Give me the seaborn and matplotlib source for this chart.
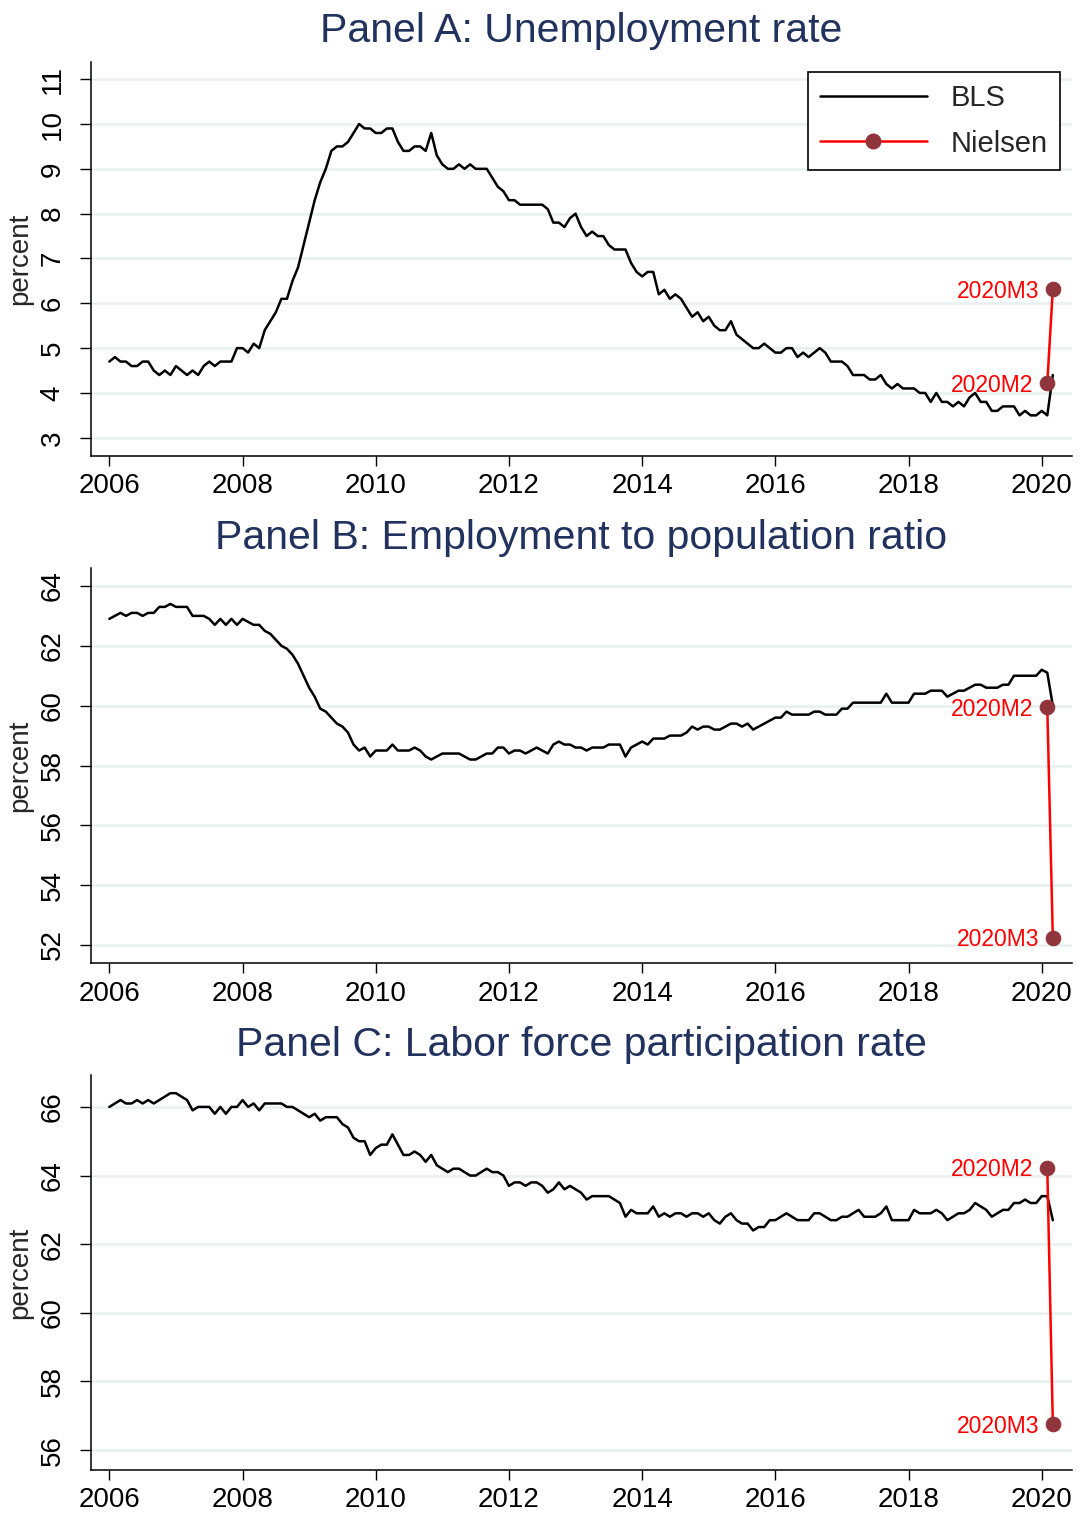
import numpy as np
import pandas as pd
import matplotlib
matplotlib.use("Agg")
import matplotlib.pyplot as plt
from matplotlib.lines import Line2D
import seaborn as sns

# ---------------- data ----------------
start_year = 2006

bls_unemp = [
    4.7, 4.8, 4.7, 4.7, 4.6, 4.6, 4.7, 4.7, 4.5, 4.4, 4.5, 4.4,
    4.6, 4.5, 4.4, 4.5, 4.4, 4.6, 4.7, 4.6, 4.7, 4.7, 4.7, 5.0,
    5.0, 4.9, 5.1, 5.0, 5.4, 5.6, 5.8, 6.1, 6.1, 6.5, 6.8, 7.3,
    7.8, 8.3, 8.7, 9.0, 9.4, 9.5, 9.5, 9.6, 9.8, 10.0, 9.9, 9.9,
    9.8, 9.8, 9.9, 9.9, 9.6, 9.4, 9.4, 9.5, 9.5, 9.4, 9.8, 9.3,
    9.1, 9.0, 9.0, 9.1, 9.0, 9.1, 9.0, 9.0, 9.0, 8.8, 8.6, 8.5,
    8.3, 8.3, 8.2, 8.2, 8.2, 8.2, 8.2, 8.1, 7.8, 7.8, 7.7, 7.9,
    8.0, 7.7, 7.5, 7.6, 7.5, 7.5, 7.3, 7.2, 7.2, 7.2, 6.9, 6.7,
    6.6, 6.7, 6.7, 6.2, 6.3, 6.1, 6.2, 6.1, 5.9, 5.7, 5.8, 5.6,
    5.7, 5.5, 5.4, 5.4, 5.6, 5.3, 5.2, 5.1, 5.0, 5.0, 5.1, 5.0,
    4.9, 4.9, 5.0, 5.0, 4.8, 4.9, 4.8, 4.9, 5.0, 4.9, 4.7, 4.7,
    4.7, 4.6, 4.4, 4.4, 4.4, 4.3, 4.3, 4.4, 4.2, 4.1, 4.2, 4.1,
    4.1, 4.1, 4.0, 4.0, 3.8, 4.0, 3.8, 3.8, 3.7, 3.8, 3.7, 3.9,
    4.0, 3.8, 3.8, 3.6, 3.6, 3.7, 3.7, 3.7, 3.5, 3.6, 3.5, 3.5,
    3.6, 3.5, 4.4,
]

bls_epop = [
    62.9, 63.0, 63.1, 63.0, 63.1, 63.1, 63.0, 63.1, 63.1, 63.3, 63.3, 63.4,
    63.3, 63.3, 63.3, 63.0, 63.0, 63.0, 62.9, 62.7, 62.9, 62.7, 62.9, 62.7,
    62.9, 62.8, 62.7, 62.7, 62.5, 62.4, 62.2, 62.0, 61.9, 61.7, 61.4, 61.0,
    60.6, 60.3, 59.9, 59.8, 59.6, 59.4, 59.3, 59.1, 58.7, 58.5, 58.6, 58.3,
    58.5, 58.5, 58.5, 58.7, 58.5, 58.5, 58.5, 58.6, 58.5, 58.3, 58.2, 58.3,
    58.4, 58.4, 58.4, 58.4, 58.3, 58.2, 58.2, 58.3, 58.4, 58.4, 58.6, 58.6,
    58.4, 58.5, 58.5, 58.4, 58.5, 58.6, 58.5, 58.4, 58.7, 58.8, 58.7, 58.7,
    58.6, 58.6, 58.5, 58.6, 58.6, 58.6, 58.7, 58.7, 58.7, 58.3, 58.6, 58.7,
    58.8, 58.7, 58.9, 58.9, 58.9, 59.0, 59.0, 59.0, 59.1, 59.3, 59.2, 59.3,
    59.3, 59.2, 59.2, 59.3, 59.4, 59.4, 59.3, 59.4, 59.2, 59.3, 59.4, 59.5,
    59.6, 59.6, 59.8, 59.7, 59.7, 59.7, 59.7, 59.8, 59.8, 59.7, 59.7, 59.7,
    59.9, 59.9, 60.1, 60.1, 60.1, 60.1, 60.1, 60.1, 60.4, 60.1, 60.1, 60.1,
    60.1, 60.4, 60.4, 60.4, 60.5, 60.5, 60.5, 60.3, 60.4, 60.5, 60.5, 60.6,
    60.7, 60.7, 60.6, 60.6, 60.6, 60.7, 60.7, 61.0, 61.0, 61.0, 61.0, 61.0,
    61.2, 61.1, 60.0,
]

bls_lfpr = [
    66.0, 66.1, 66.2, 66.1, 66.1, 66.2, 66.1, 66.2, 66.1, 66.2, 66.3, 66.4,
    66.4, 66.3, 66.2, 65.9, 66.0, 66.0, 66.0, 65.8, 66.0, 65.8, 66.0, 66.0,
    66.2, 66.0, 66.1, 65.9, 66.1, 66.1, 66.1, 66.1, 66.0, 66.0, 65.9, 65.8,
    65.7, 65.8, 65.6, 65.7, 65.7, 65.7, 65.5, 65.4, 65.1, 65.0, 65.0, 64.6,
    64.8, 64.9, 64.9, 65.2, 64.9, 64.6, 64.6, 64.7, 64.6, 64.4, 64.6, 64.3,
    64.2, 64.1, 64.2, 64.2, 64.1, 64.0, 64.0, 64.1, 64.2, 64.1, 64.1, 64.0,
    63.7, 63.8, 63.8, 63.7, 63.8, 63.8, 63.7, 63.5, 63.6, 63.8, 63.6, 63.7,
    63.6, 63.5, 63.3, 63.4, 63.4, 63.4, 63.4, 63.3, 63.2, 62.8, 63.0, 62.9,
    62.9, 62.9, 63.1, 62.8, 62.9, 62.8, 62.9, 62.9, 62.8, 62.9, 62.9, 62.8,
    62.9, 62.7, 62.6, 62.8, 62.9, 62.7, 62.6, 62.6, 62.4, 62.5, 62.5, 62.7,
    62.7, 62.8, 62.9, 62.8, 62.7, 62.7, 62.7, 62.9, 62.9, 62.8, 62.7, 62.7,
    62.8, 62.8, 62.9, 63.0, 62.8, 62.8, 62.8, 62.9, 63.1, 62.7, 62.7, 62.7,
    62.7, 63.0, 62.9, 62.9, 62.9, 63.0, 62.9, 62.7, 62.8, 62.9, 62.9, 63.0,
    63.2, 63.1, 63.0, 62.8, 62.9, 63.0, 63.0, 63.2, 63.2, 63.3, 63.2, 63.2,
    63.4, 63.4, 62.7,
]

nielsen_months = [(2020, 2), (2020, 3)]
nielsen_labels = ["2020M2", "2020M3"]
nielsen_unemp = [4.22, 6.32]
nielsen_epop = [59.95, 52.25]
nielsen_lfpr = [64.23, 56.76]

panel_titles = [
    "Panel A: Unemployment rate",
    "Panel B: Employment to population ratio",
    "Panel C: Labor force participation rate",
]
y_ticks = [list(range(3, 12)), list(range(52, 65, 2)), list(range(56, 67, 2))]
y_limits = [(2.6, 11.39), (51.39, 64.59), (55.42, 66.93)]
x_ticks = list(range(2006, 2021, 2))
x_limits = (2005.72, 2020.45)
legend_labels = ["BLS", "Nielsen"]

# ---------------- build tables ----------------
n = len(bls_unemp)
bls_time = [start_year + i / 12 for i in range(n)]
nielsen_time = [y + (m - 1) / 12 for (y, m) in nielsen_months]

bls_series = [bls_unemp, bls_epop, bls_lfpr]
nielsen_series = [nielsen_unemp, nielsen_epop, nielsen_lfpr]

# ---------------- style ----------------
sns.set_theme(style="white")
plt.rcParams['font.family'] = ['Liberation Sans', 'DejaVu Sans']

TITLE_COLOR = "#22325E"
GRID_COLOR = "#E8F0F2"
MARKER_COLOR = "#90353B"

fig = plt.figure(figsize=(10.8, 15.15), dpi=100)
W, H = 1080, 1515
left_px, right_px = 90.7, 1071.7
panel_top_bottom = [(61.7, 455.7), (568.3, 963.3), (1075.0, 1470.0)]

for i in range(3):
    top, bot = panel_top_bottom[i]
    ax = fig.add_axes([left_px / W, 1 - bot / H, (right_px - left_px) / W, (bot - top) / H])

    df_b = pd.DataFrame({"time": bls_time, "value": bls_series[i]})
    df_n = pd.DataFrame({"time": nielsen_time, "value": nielsen_series[i],
                         "label": nielsen_labels})

    sns.lineplot(data=df_b, x="time", y="value", ax=ax, color="black",
                 linewidth=1.8, zorder=3)
    sns.lineplot(data=df_n, x="time", y="value", ax=ax, color="red",
                 linewidth=1.8, marker="o", markersize=10.5,
                 markerfacecolor=MARKER_COLOR, markeredgecolor=MARKER_COLOR,
                 zorder=4)
    for _, r in df_n.iterrows():
        ax.annotate(r["label"], (r["time"], r["value"]), xytext=(-10, -1.5),
                    textcoords="offset points", ha="right", va="center",
                    color="red", fontsize=16.5, zorder=5)

    ax.set_xlim(*x_limits)
    ax.set_ylim(*y_limits[i])
    ax.set_xticks(x_ticks)
    ax.set_yticks(y_ticks[i])
    ax.set_yticklabels([str(v) for v in y_ticks[i]], rotation=90, va="center")
    ax.grid(axis="y", color=GRID_COLOR, linewidth=1.8)
    ax.grid(axis="x", visible=False)
    ax.set_axisbelow(True)
    for s in ["top", "right"]:
        ax.spines[s].set_visible(False)
    for s in ["left", "bottom"]:
        ax.spines[s].set_color("black")
        ax.spines[s].set_linewidth(1.1)
    ax.tick_params(axis="x", direction="out", length=7.5, width=1.0,
                   colors="black", labelsize=20, pad=5, bottom=True)
    ax.tick_params(axis="y", direction="out", length=8, width=1.0,
                   colors="black", labelsize=20, pad=10, left=True)
    ax.set_xlabel("")
    ax.set_ylabel("percent", fontsize=20, labelpad=5)
    ax.set_title(panel_titles[i], fontsize=29.5, color=TITLE_COLOR, pad=14)

    if i == 0:
        handles = [
            Line2D([], [], color="black", linewidth=1.8),
            Line2D([], [], color="red", linewidth=1.8, marker="o", markersize=10.5,
                   markerfacecolor=MARKER_COLOR, markeredgecolor=MARKER_COLOR),
        ]
        leg = ax.legend(handles, legend_labels, loc="upper right",
                        bbox_to_anchor=(0.988, 0.974), fontsize=21,
                        frameon=True, fancybox=False, edgecolor="black",
                        framealpha=1, handlelength=3.66, handletextpad=0.82,
                        borderpad=0.42, labelspacing=0.6, borderaxespad=0)
        leg.get_frame().set_linewidth(1.2)
        leg.set_zorder(10)

fig.savefig("out.png", dpi=100, facecolor="white")
